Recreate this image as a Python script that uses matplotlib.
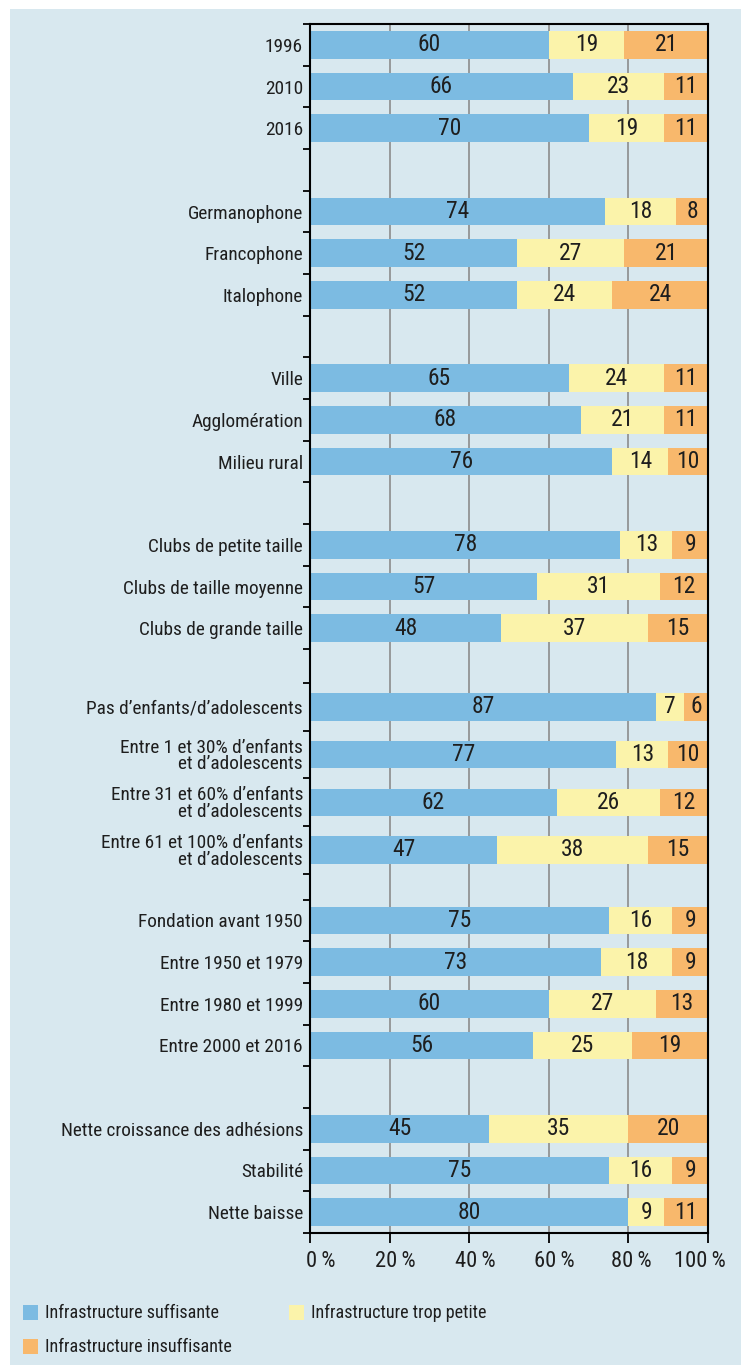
import matplotlib
matplotlib.use("Agg")
import matplotlib.pyplot as plt
from matplotlib.patches import Rectangle
from matplotlib import font_manager
import matplotlib.transforms as mtransforms
import numpy as np

# ---------------- data ----------------
categories = [
    "1996", "2010", "2016",
    "Germanophone", "Francophone", "Italophone",
    "Ville", "Agglomération", "Milieu rural",
    "Clubs de petite taille", "Clubs de taille moyenne", "Clubs de grande taille",
    "Pas d’enfants/d’adolescents",
    "Entre 1 et 30% d’enfants\net d’adolescents",
    "Entre 31 et 60% d’enfants\net d’adolescents",
    "Entre 61 et 100% d’enfants\net d’adolescents",
    "Fondation avant 1950", "Entre 1950 et 1979", "Entre 1980 et 1999", "Entre 2000 et 2016",
    "Nette croissance des adhésions", "Stabilité", "Nette baisse",
]
suffisante = [60, 66, 70, 74, 52, 52, 65, 68, 76, 78, 57, 48, 87, 77, 62, 47, 75, 73, 60, 56, 45, 75, 80]
trop_petite = [19, 23, 19, 18, 27, 24, 24, 21, 14, 13, 31, 37, 7, 13, 26, 38, 16, 18, 27, 25, 35, 16, 9]
insuffisante = [21, 11, 11, 8, 21, 24, 11, 11, 10, 9, 12, 15, 6, 10, 12, 15, 9, 9, 13, 19, 20, 9, 11]
series_names = ["Infrastructure suffisante", "Infrastructure trop petite", "Infrastructure insuffisante"]
x_ticks = [0, 20, 40, 60, 80, 100]
x_tick_labels = ["0\u2009%", "20\u2009%", "40\u2009%", "60\u2009%", "80\u2009%", "100\u2009%"]

# ---------------- layout ----------------
group_sizes = [3, 3, 3, 3, 4, 4, 3]
group_row_height = [1, 1, 1, 1, 1.145, 1, 1]
gap_after_group = [1, 1, 1, 0.815, 0.62, 1]
bar_height = 0.66

colors = ["#7cbbe2", "#fbf3aa", "#f8b86c"]
bg = "#d8e8ef"
text_color = "#1e1e1e"

# pick a narrow font if available
ttfs = font_manager.fontManager.ttflist
names = {f.name for f in ttfs}
main_font = None
for cand in ["Liberation Sans Narrow", "Roboto Condensed", "Open Sans Condensed",
             "DejaVu Sans Condensed", "Noto Sans Condensed"]:
    if cand in names:
        main_font = cand
        break
stretch = "normal"
if main_font is None:
    cond = [f for f in ttfs if f.stretch in ("condensed", "semi-condensed", 500, 600, 700)
            or "Condensed" in f.fname or "Narrow" in f.fname]
    cond_names = [f.name for f in cond if f.style == "normal"]
    if cond_names:
        main_font = cond_names[0]
        stretch = "condensed"
    else:
        main_font = "Roboto"
plt.rcParams["font.family"] = [main_font, "DejaVu Sans"]
plt.rcParams["font.stretch"] = stretch
FS = 13.5 if main_font in ("Liberation Sans Narrow", "Roboto Condensed", "Open Sans Condensed") else 12
label_fs = FS * 1.03
value_fs = FS * 1.25
xtick_fs = FS * 1.2
legend_fs = FS * 0.97

W, H = 741, 1365
fig = plt.figure(figsize=(W / 100, H / 100), dpi=100)
fig.patch.set_facecolor("white")
fig.patches.append(Rectangle((10 / W, 0), 1, 1 - 9 / H, transform=fig.transFigure,
                             facecolor=bg, edgecolor="none", zorder=-5))

ax_left, ax_right, ax_top, ax_bottom = 310, 708, 24, 1233
ax = fig.add_axes([ax_left / W, 1 - ax_bottom / H, (ax_right - ax_left) / W, (ax_bottom - ax_top) / H])
ax.set_facecolor(bg)

# compute row centers / boundaries
centers, boundaries = [], [0.0]
pos = 0.0
for gi, (n, rh) in enumerate(zip(group_sizes, group_row_height)):
    for _ in range(n):
        centers.append(pos + rh / 2)
        pos += rh
        boundaries.append(pos)
    if gi < len(gap_after_group):
        pos += gap_after_group[gi]
        boundaries.append(pos)
total = pos
centers = np.array(centers)

left = np.zeros(len(categories))
for vals, col in zip([suffisante, trop_petite, insuffisante], colors):
    bc = ax.barh(centers, vals, left=left, height=bar_height, color=col, edgecolor="none", zorder=2)
    ax.bar_label(bc, labels=[str(v) for v in vals], label_type="center", fontsize=value_fs,
                 color=text_color)
    left += np.array(vals)

ax.set_xlim(0, 100)
ax.set_ylim(total, 0)

ax.set_yticks(boundaries)
ax.set_yticklabels([])
ax.set_yticks(centers, minor=True)
ax.set_yticklabels(categories, minor=True, fontsize=label_fs, color=text_color, linespacing=0.92)
ax.tick_params(axis="y", which="major", length=5, width=1.3, direction="out")
ax.tick_params(axis="y", which="minor", length=0, pad=5)

ax.set_xticks(x_ticks)
ax.tick_params(axis="x", which="major", length=7, width=1.3, direction="out", pad=6, colors="black")
ax.set_xticklabels(x_tick_labels, fontsize=xtick_fs, color=text_color)
offsets_px = [11, 6, 6, 6, 2.5, -8.5]
for lab, off in zip(ax.get_xticklabels(), offsets_px):
    lab.set_transform(lab.get_transform() + mtransforms.ScaledTranslation(off / 100, 0, fig.dpi_scale_trans))

for xv in x_ticks[1:-1]:
    ax.axvline(xv, color="#8c8c8c", lw=1.2, zorder=1)

for sp in ax.spines.values():
    sp.set_color("black")
    sp.set_linewidth(1.5)

# legend (manual placement)
legend_pos = [(23, 1305), (289, 1305), (23, 1339)]
for name, col, (lx, ly) in zip(series_names, colors, legend_pos):
    fig.patches.append(Rectangle((lx / W, 1 - (ly + 15) / H), 15 / W, 15 / H,
                                 transform=fig.transFigure, facecolor=col, edgecolor="none", zorder=3))
    fig.text((lx + 22) / W, 1 - (ly + 7.5) / H, name, fontsize=legend_fs, color=text_color,
             ha="left", va="center")

fig.savefig("out.png", dpi=100, facecolor=fig.get_facecolor())
